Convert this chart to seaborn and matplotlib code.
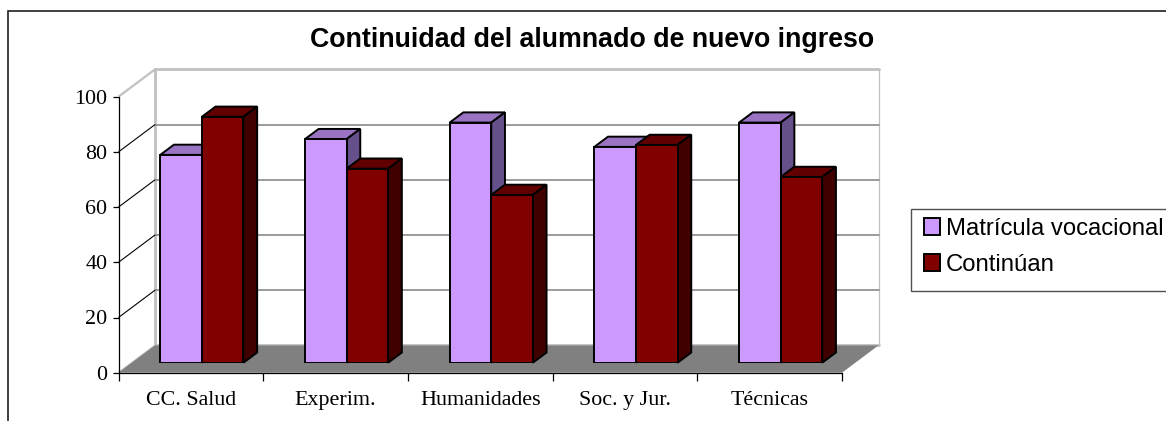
import pandas as pd
import matplotlib
matplotlib.use("Agg")
import matplotlib.pyplot as plt
import seaborn as sns
from matplotlib.patches import Polygon, Rectangle
from matplotlib.transforms import Affine2D

areas = ["CC. Salud", "Experim.", "Humanidades", "Soc. y Jur.", "Técnicas"]
matricula = [75.3, 81, 87, 78.2, 87]
continuan = [89.1, 70.3, 60.8, 78.9, 67.3]
series = ["Matrícula vocacional", "Continúan"]
y_ticks = [0, 20, 40, 60, 80, 100]

W, H = 1166, 421
front_col = ["#CC99FF", "#800000"]
top_col = ["#9A74C2", "#600000"]
side_col = ["#66508A", "#400000"]
WALL = "#C0C0C0"
GRID = "#808080"

df = pd.DataFrame({
    "area": areas * 2,
    "valor": matricula + continuan,
    "serie": [series[0]] * 5 + [series[1]] * 5,
})

sns.set_theme(style="white")
plt.rcParams["font.family"] = ["Liberation Serif", "DejaVu Serif"]
plt.rcParams["text.color"] = "black"
plt.rcParams["xtick.labelcolor"] = "black"
plt.rcParams["ytick.labelcolor"] = "black"

fig = plt.figure(figsize=(W / 100, H / 100), dpi=100)


def axes_px(left, right, top, bottom):
    return fig.add_axes([left / W, 1 - bottom / H, (right - left) / W, (bottom - top) / H])


# front plane of the box: carries the axis ticks and labels
ax = axes_px(118.5, 842, 96.7, 372.7)
ax.set_xlim(-0.5, 4.5)
ax.set_ylim(0, 100)
ax.patch.set_visible(False)
for name in ["top", "right"]:
    ax.spines[name].set_visible(False)
for name in ["left", "bottom"]:
    ax.spines[name].set_color("black")
    ax.spines[name].set_linewidth(0.9)
    ax.spines[name].set_zorder(6)

ax.set_yticks(y_ticks)
ax.tick_params(axis="y", length=4.5, width=0.9, color="black", labelsize=15.8, pad=3.5, left=True)
ax.set_xticks([i - 0.5 for i in range(6)])
ax.set_xticklabels([])
ax.set_xticks(range(5), labels=areas, minor=True)
ax.tick_params(axis="x", which="major", length=5.5, width=0.9, color="black", bottom=True)
ax.tick_params(axis="x", which="minor", length=0, labelsize=15.8, pad=13)

# box depth in pixels, from the front plane to the back wall
back = ax.transData + Affine2D().translate(36.5, 27.3)


def depth_line(val, color, lw):
    # line from the front axis to the back wall at a given value
    p0 = ax.transData.transform((-0.5, val))
    p1 = back.transform((-0.5, val))
    ax.plot([p0[0], p1[0]], [p0[1], p1[1]], transform=None, color=color, lw=lw,
            clip_on=False, zorder=1, solid_capstyle="butt")


# walls and gridlines
ax.plot([-0.5, -0.5], [0, 100], transform=back, color=WALL, lw=2, clip_on=False, zorder=1)
ax.plot([4.5, 4.5], [0, 100], transform=back, color=WALL, lw=0.9, clip_on=False, zorder=1)
ax.plot([-0.5, 4.5], [100, 100], transform=back, color=WALL, lw=2, clip_on=False, zorder=1)
ax.plot([-0.5, 4.5], [0, 0], transform=back, color=WALL, lw=2, clip_on=False, zorder=1)
for v in y_ticks[1:-1]:
    ax.plot([-0.5, 4.5], [v, v], transform=back, color=GRID, lw=1.1, clip_on=False, zorder=1)
    depth_line(v, "black", 0.8)
depth_line(100, WALL, 1.6)

# floor
corners = [ax.transData.transform((-0.5, 0)), ax.transData.transform((4.5, 0)),
           back.transform((4.5, 0)), back.transform((-0.5, 0))]
ax.add_patch(Polygon(corners, closed=True, transform=None, facecolor=GRID,
                     edgecolor="none", clip_on=False, zorder=2))
depth_line(0, WALL, 1.2)

# bars sit a bit behind the front plane
ax_bar = axes_px(129.5, 853, 86.7, 362.7)
sns.barplot(data=df, x="area", y="valor", hue="serie", hue_order=series, palette=front_col,
            saturation=1, width=0.575, gap=0, edgecolor="black", linewidth=1.4,
            ax=ax_bar, zorder=3)
ax_bar.set_xlim(-0.5, 4.5)
ax_bar.set_ylim(0, 100)
ax_bar.axis("off")

# sides and tops of the bars, taken from the drawn fronts
dx, dy = 13.7, 10.2
for k, cont in enumerate(ax_bar.containers):
    for bar in cont:
        x0, y0 = ax_bar.transData.transform((bar.get_x(), 0))
        x1, y1 = ax_bar.transData.transform((bar.get_x() + bar.get_width(), bar.get_height()))
        top = [(x0, y1), (x1, y1), (x1 + dx, y1 + dy), (x0 + dx, y1 + dy)]
        side = [(x1, y0), (x1, y1), (x1 + dx, y1 + dy), (x1 + dx, y0 + dy)]
        for pts, col in [(top, top_col[k]), (side, side_col[k])]:
            ax_bar.add_patch(Polygon(pts, closed=True, transform=None, facecolor=col,
                                     edgecolor="black", linewidth=1.4, joinstyle="miter",
                                     clip_on=False, zorder=2 + k * 0.5))

# legend frame runs off the right of the picture
ax_bar.add_patch(Rectangle((910.5 / W, 1 - 290.7 / H), 0.3, 81.7 / H, transform=fig.transFigure,
                           facecolor="white", edgecolor="#505050", linewidth=1,
                           clip_on=False, zorder=4))
handles, labels = ax_bar.get_legend_handles_labels()
ax_bar.legend(handles, labels, loc="upper left", bbox_to_anchor=(924 / W, 1 - 218 / H),
              bbox_transform=fig.transFigure, borderaxespad=0, frameon=False, borderpad=0,
              handlelength=0.68, handleheight=0.68, handletextpad=0.25, labelspacing=0.58,
              prop={"family": "Liberation Sans", "size": 17.2})

fig.text(592 / W, 1 - 40 / H, "Continuidad del alumnado de nuevo ingreso", ha="center", va="center",
         family="Liberation Sans", fontweight="bold", fontsize=19.3, color="black")

# outer chart border, runs off the right and bottom of the picture
fig.add_artist(Rectangle((8 / W, -0.1), 1.2, 1.1 - 11 / H, transform=fig.transFigure,
                         facecolor="none", edgecolor="#202020", linewidth=1.2))

fig.savefig("out.png", dpi=100)
